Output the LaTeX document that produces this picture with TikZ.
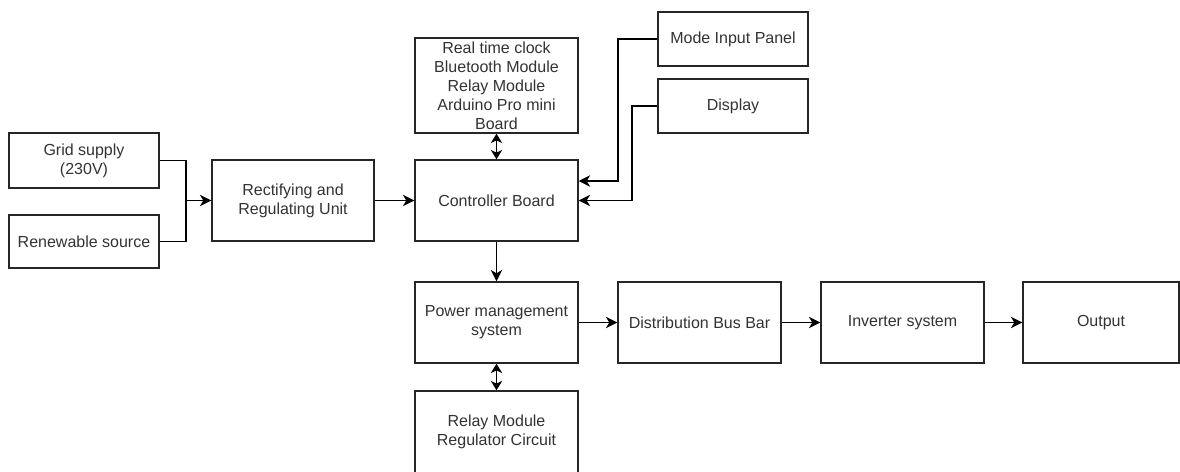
\documentclass[tikz,border=0pt]{standalone}
\usepackage{fontspec}
\setmainfont{Liberation Sans}
\usetikzlibrary{arrows.meta}
\begin{document}
\begin{tikzpicture}[x=0.75pt,y=-0.75pt,
  box/.style={draw=black!85, line width=1.1pt, fill=white, inner sep=0pt, align=center,
    font=\fontsize{12}{14.3}\selectfont, text=black!80},
  conn/.style={draw=black, line width=1.1pt, -{Stealth[length=8.5pt,width=8.5pt,inset=2.5pt]}},
  bidir/.style={draw=black, line width=1.1pt, {Stealth[length=7pt,width=8.5pt,inset=2pt]}-{Stealth[length=7pt,width=8.5pt,inset=2pt]}}]
\useasboundingbox (0,0) rectangle (1180,471);
\node[box, minimum width=112.5pt, minimum height=41.25pt] (grid) at (84,160.5) {Grid supply\\(230V)};
\node[box, minimum width=112.5pt, minimum height=40pt] (ren) at (84,241.5) {Renewable source};
\node[box, minimum width=121.5pt, minimum height=60.75pt] (rect) at (293,200.5) {Rectifying and\\Regulating Unit};
\node[box, minimum width=122.25pt, minimum height=60.75pt] (ctrl) at (496.5,200.5) {Controller Board};
\node[box, minimum width=122.25pt, minimum height=71.25pt] (rtc) at (496.5,85.5) {Real time clock\\Bluetooth Module\\Relay Module\\Arduino Pro mini\\Board};
\node[box, minimum width=112.5pt, minimum height=40.5pt] (mode) at (733,39) {Mode Input Panel};
\node[box, minimum width=112.5pt, minimum height=40.5pt] (disp) at (733,106) {Display};
\node[box, minimum width=122.25pt, minimum height=60.75pt] (pm) at (496.5,322.5) {Power management\\system};
\node[box, minimum width=122.25pt, minimum height=60.75pt] (dist) at (699.5,322.5) {Distribution Bus Bar};
\node[box, minimum width=122.25pt, minimum height=60.75pt] (inv) at (902.5,322.5) {Inverter system};
\node[box, minimum width=117pt, minimum height=60.75pt] (out) at (1101,322.5) {Output};
\node[box, minimum width=122.25pt, minimum height=61.5pt] (relay) at (496.5,432) {Relay Module\\Regulator Circuit};
\coordinate (j) at (186,200.5);
\draw[line width=1.1pt] (grid.east) -| (j);
\draw[line width=1.1pt] (ren.east) -| (j);
\draw[conn] (j) -- (rect.west);
\draw[conn] (rect.east) -- (ctrl.west);
\draw[bidir] (rtc.south) -- (ctrl.north);
\draw[conn] (mode.west) -- (618,39) -- (618,181) -- (ctrl.east |- 0,181);
\draw[conn] (disp.west) -- (632,106) -- (632,200.5) -- (ctrl.east);
\draw[conn] (ctrl.south) -- (pm.north);
\draw[conn] (pm.east) -- (dist.west);
\draw[conn] (dist.east) -- (inv.west);
\draw[conn] (inv.east) -- (out.west);
\draw[bidir] (pm.south) -- (relay.north);
\end{tikzpicture}
\end{document}
